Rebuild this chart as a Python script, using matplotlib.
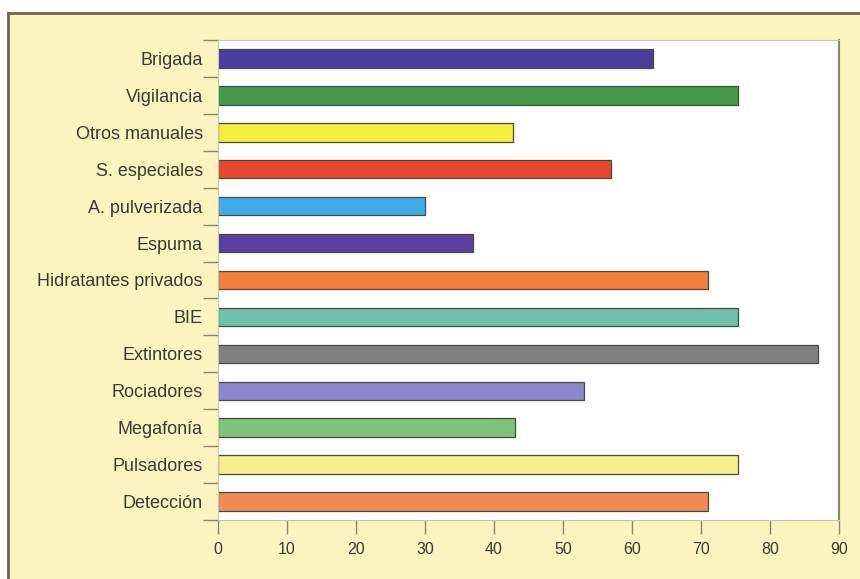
import matplotlib
matplotlib.use("Agg")
import matplotlib.pyplot as plt
from matplotlib.patches import Rectangle
from matplotlib.lines import Line2D
import numpy as np

categories = ["Brigada", "Vigilancia", "Otros manuales", "S. especiales",
              "A. pulverizada", "Espuma", "Hidratantes privados", "BIE",
              "Extintores", "Rociadores", "Megafonía", "Pulsadores", "Detección"]
values = [63, 75.3, 42.8, 57, 30, 37, 71, 75.3, 87, 53, 43, 75.3, 71]
colors = ["#4a3d9c", "#3f9a4c", "#f6ee3c", "#e8472f", "#3daeea", "#5b3f9f",
          "#f2803a", "#6ec2aa", "#808080", "#8c86cc", "#7ec27e", "#f7ef8c",
          "#f08b58"]
xticks = [0, 10, 20, 30, 40, 50, 60, 70, 80, 90]

plt.rcParams["font.family"] = ["Liberation Sans", "DejaVu Sans"]

W, H = 860, 579
fig = plt.figure(figsize=(W / 100, H / 100), dpi=100)
fig.patch.set_facecolor("white")

# cream panel with a dark frame on its top and left edges
panel_x0, panel_top = 8 / W, 1 - 13 / H
fig.patches.append(Rectangle((panel_x0, 0), 1 - panel_x0, panel_top,
                             transform=fig.transFigure, facecolor="#fbf4bf",
                             edgecolor="none", zorder=-10))
fig.lines.append(Line2D([panel_x0, 1], [panel_top, panel_top],
                        transform=fig.transFigure, color="#6b6355", lw=2,
                        zorder=-5))
fig.lines.append(Line2D([panel_x0, panel_x0], [0, panel_top],
                        transform=fig.transFigure, color="#6b6355", lw=2,
                        zorder=-5))

ax = fig.add_axes([218 / W, 1 - 520 / H, (839 - 218) / W, (520 - 40) / H])
ax.set_zorder(1)
ax.set_facecolor("white")

y = np.arange(len(categories))
ax.barh(y, values, height=0.5, color=colors, edgecolor="#4a4a3a",
        linewidth=0.9, zorder=2)

ax.set_xlim(0, 90)
ax.set_ylim(len(categories) - 0.5, -0.5)

# ticks at category boundaries, labels centred on the bars
ax.set_yticks(np.arange(-0.5, len(categories), 1.0))
ax.set_yticklabels([])
ax.tick_params(axis="y", which="major", direction="out", length=11,
               width=1, color="#8a8570")
ax.set_yticks(y, minor=True)
ax.set_yticklabels(categories, minor=True, fontsize=13, color="#3a3a34")
ax.tick_params(axis="y", which="minor", length=0, pad=11)

ax.set_xticks(xticks)
ax.set_xticklabels([str(t) for t in xticks], fontsize=11.5, color="#3a3a34")
ax.tick_params(axis="x", direction="out", length=10, width=1,
               color="#8a8570", pad=6)

for side in ["left", "bottom", "top"]:
    ax.spines[side].set_color("#c9c4b0")
    ax.spines[side].set_linewidth(0.8)
ax.spines["right"].set_color("#8a8570")
ax.spines["right"].set_linewidth(1.5)

fig.savefig("out.png", dpi=100)
